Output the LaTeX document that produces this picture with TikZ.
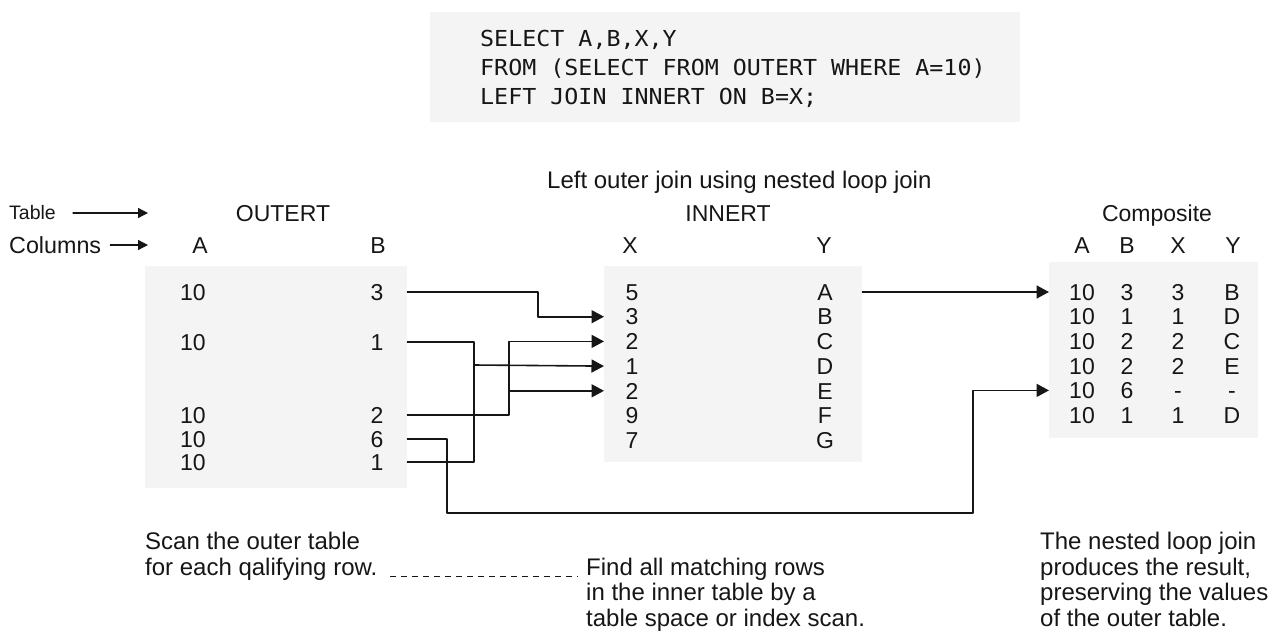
\documentclass[tikz,border=0pt]{standalone}
\usepackage{fontspec}
\setmainfont{Liberation Sans}
\newfontfamily\sqlfont{DejaVu Sans Mono}[FakeStretch=1.06]
\usetikzlibrary{arrows.meta}
\definecolor{ink}{HTML}{161616}
\definecolor{boxgray}{HTML}{F4F4F4}
\begin{document}
\begin{tikzpicture}[x=1pt, y=-1pt, font=\fontsize{24}{25.5}\selectfont, line join=round, line cap=round, >={Triangle[length=12.5pt,width=13pt]}, color=ink,
		val/.style={inner sep=0pt, text height=16.5pt, text depth=0pt, anchor=center, font=\fontsize{23}{24}\selectfont},
		note/.style={inner sep=0pt, anchor=north west, align=left},
		box/.style={fill=boxgray, inner sep=0pt, anchor=north west},
		link/.style={line width=1.6pt}]
				\useasboundingbox (0,0) rectangle (1274,635);
				% query
				\node[box, minimum width=590pt, minimum height=110pt] (query) at (430,12) {};
				\node[note, font=\sqlfont\fontsize{22}{29}\selectfont] (sql) at (480,30) {SELECT A,B,X,Y\\FROM (SELECT FROM OUTERT WHERE A=10)\\LEFT JOIN INNERT ON B=X;};
				\node[val, anchor=west, font=\fontsize{24}{25}\selectfont, text height=17.2pt] (title) at (547,180) {Left outer join using nested loop join};
				% labels on the left
				\node[val, anchor=west, font=\fontsize{19.5}{20}\selectfont, text height=14pt] (tbl) at (9,212) {Table};
				\node[val, anchor=west, font=\fontsize{23.3}{24}\selectfont, text height=16.7pt] (cols) at (9,245) {Columns};
				\coordinate (tblend) at (148,213);
				\coordinate (colsend) at (148,245);
				\draw[line width=1.3pt, -{Triangle[length=10pt,width=10pt]}] ([xshift=17pt]tbl.east |- tblend) -- (tblend);
				\draw[line width=1.3pt, -{Triangle[length=10pt,width=10pt]}] ([xshift=9pt]cols.east) -- (colsend);
				% tables
				\node[box, minimum width=262pt, minimum height=222pt] (outer) at (145,266) {};
				\node[box, minimum width=258pt, minimum height=196pt] (inner) at (604,266) {};
				\node[box, minimum width=209pt, minimum height=176pt] (comp) at (1049,262) {};
				\node[val] (outname) at (283,213) {OUTERT};
				\node[val] (inname) at (728,213) {INNERT};
				\node[val] (compname) at (1157,213) {Composite};
				\node[val] (ha) at (200,245) {A};
				\node[val] (hb) at (378,245) {B};
				\node[val] (hx) at (630,245) {X};
				\node[val] (hy) at (824,245) {Y};
				\node[val] (hca) at (1082,245) {A};
				\node[val] (hcb) at (1127,245) {B};
				\node[val] (hcx) at (1178,245) {X};
				\node[val] (hcy) at (1233,245) {Y};
				% OUTERT rows
				\foreach \b/\y [count=\i] in {3/292, 1/342, 2/415, 6/439, 1/462} {
					\node[val] (oa\i) at (193,\y) {10};
					\node[val] (ob\i) at (377,\y) {\b};
				}
				% INNERT rows
				\foreach \x/\y [count=\i] in {5/A, 3/B, 2/C, 1/D, 2/E, 9/F, 7/G} {
					\node[val] (ix\i) at (632,{292+24.7*(\i-1)}) {\x};
					\node[val] (iy\i) at (825,{292+24.7*(\i-1)}) {\y};
				}
				% Composite rows
				\foreach \a/\b/\x/\y [count=\i] in {10/3/3/B, 10/1/1/D, 10/2/2/C, 10/2/2/E, 10/6/-/-, 10/1/1/D} {
					\node[val] (ca\i) at (1082,{292+24.6*(\i-1)}) {\a};
					\node[val] (cb\i) at (1127,{292+24.6*(\i-1)}) {\b};
					\node[val] (cx\i) at (1178,{292+24.6*(\i-1)}) {\x};
					\node[val] (cy\i) at (1232,{292+24.6*(\i-1)}) {\y};
				}
				% connectors
				\coordinate (j1) at (474,400);
				\coordinate (j1b) at (474,365);
				\coordinate (j2) at (509,378);
				\coordinate (j3) at (538,300);
				\coordinate (j4) at (447,513);
				\coordinate (j5) at (973,450);
				\draw[link,->] (outer.east |- ob1) -| (j3) |- (inner.west |- ix2);
				\draw[link] (outer.east |- ob2) -| (j1) |- (outer.east |- ob5);
				\draw[link,->] (j1b) -- (inner.west |- ix4);
				\draw[link,->] (outer.east |- ob3) -| (j2) |- (inner.west |- ix3);
				\draw[link,->] (j2 |- ix5) -- (inner.west |- ix5);
				\draw[link,->] (outer.east |- ob4) -| (j4) -| (j5) |- (comp.west |- ca5);
				\draw[link,->] (inner.east |- iy1) -- (comp.west |- ca1);
				% notes
				\node[note] (scan) at (145,532) {Scan the outer table\\for each qalifying row.};
				\node[note] (find) at (586,557.5) {Find all matching rows\\in the inner table by a\\table space or index scan.};
				\node[note] (result) at (1040,532) {The nested loop join\\produces the result,\\preserving the values\\of the outer table.};
				\coordinate (dl) at (390,576);
				\coordinate (dr) at (578,576);
				\draw[line width=1pt, line cap=butt, dash pattern=on 6pt off 5pt] (dl) -- (dr);
			\end{tikzpicture}
\end{document}
